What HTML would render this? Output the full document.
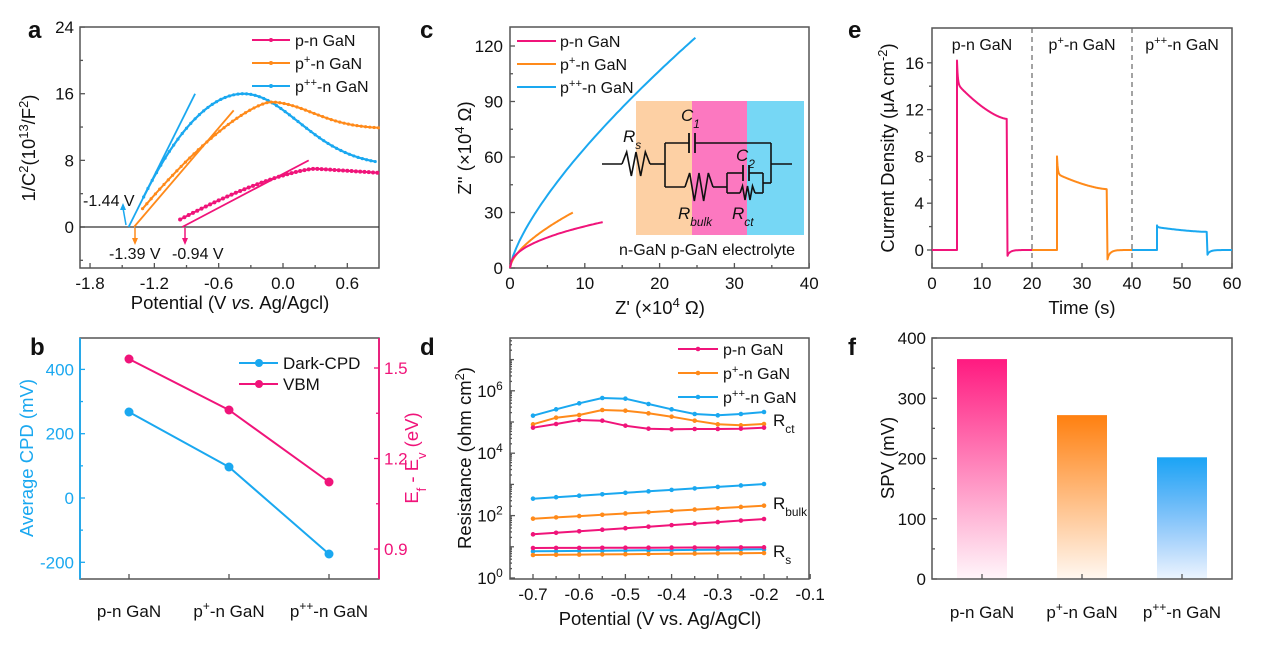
<!DOCTYPE html>
<html><head><meta charset="utf-8"><style>
html,body{margin:0;padding:0;background:#fff;}
svg{display:block;font-family:"Liberation Sans",Arial,sans-serif;}
</style></head><body>
<svg id="s" width="1269" height="645" viewBox="0 0 1269 645" xmlns="http://www.w3.org/2000/svg"></svg>
<script>
const S=document.getElementById('s');let H='';
const PK='#f0147a',OR='#ff8a1a',BL='#1aa8f0',FR='#555';
const TF=17,AF=18.5,LF=16;
function t(x,y,s,o){o=o||{};H+=`<text x="${x}" y="${y}" font-size="${o.fs||TF}" fill="${o.c||'#111'}" text-anchor="${o.a||'start'}" ${o.w?'font-weight="bold"':''} ${o.r?`transform="rotate(-90 ${x} ${y})"`:''} ${o.it?'font-style="italic"':''}>${s}</text>`;}
function L(x1,y1,x2,y2,c,w,d){H+=`<line x1="${x1}" y1="${y1}" x2="${x2}" y2="${y2}" stroke="${c||FR}" stroke-width="${w||1.3}" ${d?`stroke-dasharray="${d}"`:''}/>`;}
function P(pts,c,w){H+=`<polyline fill="none" stroke="${c}" stroke-width="${w||2}" stroke-linejoin="round" points="${pts.map(p=>p[0].toFixed(1)+','+p[1].toFixed(1)).join(' ')}"/>`;}
function box(x1,y1,x2,y2){H+=`<rect x="${x1}" y="${y1}" width="${x2-x1}" height="${y2-y1}" fill="none" stroke="${FR}" stroke-width="1.5"/>`;}
function dot(x,y,c,r){H+=`<circle cx="${x}" cy="${y}" r="${r||1.8}" fill="${c}"/>`;}
const SUP=s=>`<tspan baseline-shift="super" font-size="70%">${s}</tspan>`;
const SUB=s=>`<tspan baseline-shift="sub" font-size="70%">${s}</tspan>`;
const labs=['p-n GaN',`p${SUP('+')}-n GaN`,`p${SUP('++')}-n GaN`];

/* ---------- a ---------- */
{const X=v=>283+v*107.2,Y=v=>227-v*8.33;
box(80,27,379,268);
[-1.8,-1.2,-0.6,0,0.6].forEach(v=>{L(X(v),268,X(v),263);t(X(v),289,v.toFixed(1),{a:'middle'});});
[-1.5,-0.9,-0.3,0.3].forEach(v=>L(X(v),268,X(v),265));
[24,16,8,0].forEach(v=>{L(80,Y(v),85,Y(v));t(74,Y(v)+6,v,{a:'end'});});
[20,12,4,-4].forEach(v=>L(80,Y(v),83,Y(v)));
L(80,227,379,227,'#333',1.2);
let b=[];for(let v=-1.3;v<=0.9;v+=0.04){let y=v<-0.37?3.6+(16-3.6)*(1-Math.pow((-0.37-v)/0.93,1.95)):16-7.7*(1-Math.exp(-Math.pow((v+0.37)/0.8,2)*1.2))/(1-Math.exp(-1.2*1.84));b.push([X(v),Y(y)]);}
P(b,BL,2.2);b.forEach(p=>dot(p[0],p[1],BL,1.6));
let o=[];for(let v=-1.31;v<=0.9;v+=0.04){let y=v<-0.12?2.2+(15-2.2)*(1-Math.pow((-0.12-v)/1.19,1.4)):15-3.2*(1-Math.exp(-Math.pow((v+0.12)/0.55,2)));o.push([X(v),Y(y)]);}
P(o,OR,2);o.forEach(p=>dot(p[0],p[1],OR,1.6));
let pk=[];for(let v=-0.96;v<=0.9;v+=0.04){let y=v<0.3?0.9+(7-0.9)*(1-Math.pow((0.3-v)/1.26,1.4)):7-0.5*(v-0.3)/0.6;pk.push([X(v),Y(y)]);}
P(pk,PK,2);pk.forEach(p=>dot(p[0],p[1],PK,2));
L(X(-1.44),227,X(-0.82),Y(16),BL,1.8);L(X(-1.39),227,X(-0.46),Y(14),OR,1.8);L(X(-0.94),227,X(0.24),Y(8),PK,1.8);
L(126,225,123,208,BL,1.5);H+=`<path d="M120,210 L123,203 L126,210Z" fill="${BL}"/>`;
L(135,228,135,240,OR,1.5);H+=`<path d="M132,238 L135,245 L138,238Z" fill="${OR}"/>`;
L(185,228,185,240,PK,1.5);H+=`<path d="M182,238 L185,245 L188,238Z" fill="${PK}"/>`;
t(83,206,'-1.44 V',{fs:16});t(109,259,'-1.39 V',{fs:16});t(172,259,'-0.94 V',{fs:16});
[[PK,46],[OR,69],[BL,92]].forEach((q,i)=>{L(252,q[1]-6,290,q[1]-6,q[0],2);dot(271,q[1]-6,q[0],2);t(295,q[1],labs[i],{fs:LF});});
t(35,148,`1/C${SUP(2)}(10${SUP(13)}/F${SUP(2)})`,{fs:AF,r:1,a:'middle'});
t(230,309,'Potential (V <tspan font-style="italic">vs.</tspan> Ag/Agcl)',{fs:AF,a:'middle'});
t(28,38,'a',{fs:24,w:1});}

/* ---------- c ---------- */
{const X=v=>510+v*7.48,Y=v=>268-v*1.85;
box(510,27,809,268);
[0,10,20,30,40].forEach(v=>{L(X(v),268,X(v),263);t(X(v),289,v,{a:'middle'});});
[5,15,25,35].forEach(v=>L(X(v),268,X(v),265));
[0,30,60,90,120].forEach(v=>{L(510,Y(v),515,Y(v));t(503,Y(v)+6,v,{a:'end'});});
[15,45,75,105].forEach(v=>L(510,Y(v),513,Y(v)));
H+=`<rect x="636" y="101" width="56" height="134" fill="#fdd0a4"/><rect x="692" y="101" width="55" height="134" fill="#fc78c0"/><rect x="747" y="101" width="57" height="134" fill="#76d7f5"/>`;
const cur=(e,a,b)=>{let p=[];for(let z=0;z<=e;z+=e/60)p.push([X(z),Y(a*Math.pow(z/e,b))]);return p;};
P(cur(25.2,126,0.72),BL,2);P(cur(8.4,30,0.62),OR,2);P(cur(12.6,25,0.45),PK,2);
const zz=(x1,x2,y,h)=>{let n=6,d=`M${x1},${y}`;for(let i=1;i<n;i++){d+=` L${x1+(x2-x1)*i/n},${y+(i%2?-h:h)}`;}d+=` L${x2},${y}`;H+=`<path d="${d}" fill="none" stroke="#111" stroke-width="1.6"/>`;};
const K='#111';
L(602,164,622,164,K,1.6);zz(622,650,164,12);L(650,164,665,164,K,1.6);
L(665,143,665,187,K,1.6);L(665,143,689,143,K,1.6);L(689,133,689,153,K,1.8);L(695,133,695,153,K,1.8);L(695,143,771,143,K,1.6);
L(771,143,771,183,K,1.6);L(771,164,792,164,K,1.6);L(763,183,771,183,K,1.6);
L(665,187,685,187,K,1.6);zz(685,713,187,14);L(713,187,727,187,K,1.6);
L(727,173,727,193,K,1.6);L(727,173,743,173,K,1.6);L(743,165,743,181,K,1.8);L(749,165,749,181,K,1.8);L(749,173,763,173,K,1.6);
L(727,193,740,193,K,1.6);zz(740,755,193,7);L(755,193,763,193,K,1.6);L(763,173,763,193,K,1.6);
t(623,142,`R${SUB('s')}`,{fs:17,it:1});t(681,121,`C${SUB('1')}`,{fs:17,it:1});t(736,161,`C${SUB('2')}`,{fs:17,it:1});
t(678,219,`R${SUB('bulk')}`,{fs:17,it:1});t(732,219,`R${SUB('ct')}`,{fs:17,it:1});
t(619,255,'n-GaN p-GaN electrolyte',{fs:16});
[[PK,47],[OR,70],[BL,93]].forEach((q,i)=>{L(517,q[1]-6,556,q[1]-6,q[0],2);t(560,q[1],labs[i],{fs:LF});});
t(471,148,`Z'' (×10${SUP('4')} Ω)`,{fs:AF,r:1,a:'middle'});
t(660,314,`Z' (×10${SUP('4')} Ω)`,{fs:AF,a:'middle'});
t(420,38,'c',{fs:24,w:1});}

/* ---------- e ---------- */
{const X=v=>932+v*5,Y=v=>250-v*11.7;
box(932,28,1232,268);
[0,10,20,30,40,50,60].forEach(v=>{L(X(v),268,X(v),263);t(X(v),289,v,{a:'middle'});});
[0,4,8,12,16].forEach(v=>{L(927,Y(v),932,Y(v));t(924,Y(v)+6,v,{a:'end'});});
[2,6,10,14].forEach(v=>L(929,Y(v),932,Y(v)));
L(X(20),28,X(20),268,'#666',1.2,'5,4');L(X(40),28,X(40),268,'#666',1.2,'5,4');
const seg=(t0,pk,a1,e,c,neg)=>{let p=[[X(t0-5),Y(0)],[X(t0),Y(0)],[X(t0),Y(pk)]];for(let s=0.02;s<=10;s+=0.08){let v=e+(a1-e)*Math.pow((10-s)/10,1.5)+(pk-a1)*Math.exp(-s/0.15);p.push([X(t0+s),Y(v)]);}
p.push([X(t0+10.1),Y(neg)]);for(let s=0.3;s<=5;s+=0.3)p.push([X(t0+10+s),Y(neg*Math.exp(-s/0.6))]);p.push([X(t0+15),Y(0)]);P(p,c,2);};
seg(5,16.2,14.2,11.2,PK,-0.5);seg(25,8,6.5,5.2,OR,-0.8);seg(45,2.1,1.95,1.55,BL,-0.4);
t(982,50,'p-n GaN',{a:'middle',fs:LF});t(1082,50,labs[1],{a:'middle',fs:LF});t(1182,50,labs[2],{a:'middle',fs:LF});
t(894,148,`Current Density (μA cm${SUP('-2')})`,{fs:AF,r:1,a:'middle'});
t(1082,314,'Time (s)',{fs:AF,a:'middle'});
t(848,38,'e',{fs:24,w:1});}

/* ---------- b ---------- */
{const YL=v=>498-v*0.3215,YR=v=>368+(1.5-v)*301.7;
H+=`<rect x="80" y="338" width="299" height="241" fill="none" stroke="${FR}" stroke-width="1.5"/>`;
L(80,338,80,579,BL,1.8);L(379,338,379,579,PK,1.8);
[400,200,0,-200].forEach(v=>{L(80,YL(v),85,YL(v),BL);t(74,YL(v)+6,v,{a:'end',c:BL});});
[300,100,-100].forEach(v=>L(80,YL(v),83,YL(v),BL));
[1.5,1.2,0.9].forEach(v=>{L(374,YR(v),379,YR(v),PK);t(384,YR(v)+6,v.toFixed(1),{c:PK});});
[1.35,1.05].forEach(v=>L(376,YR(v),379,YR(v),PK));
[129,229,329].forEach((x,i)=>{L(x,579,x,574);t(x,617,labs[i],{a:'middle',fs:17});});
P([[129,412],[229,467],[329,554]],BL,2);P([[129,359],[229,410],[329,482]],PK,2);
[[129,412],[229,467],[329,554]].forEach(p=>dot(p[0],p[1],BL,4.5));[[129,359],[229,410],[329,482]].forEach(p=>dot(p[0],p[1],PK,4.5));
L(239,363,278,363,BL,2);dot(259,363,BL,4);t(283,369,'Dark-CPD',{fs:17});
L(239,384,278,384,PK,2);dot(259,384,PK,4);t(283,390,'VBM',{fs:17});
t(33,458,'Average CPD (mV)',{fs:AF,r:1,a:'middle',c:BL});
t(418,458,`E${SUB('f')} - E${SUB('v')} (eV)`,{fs:AF,r:1,a:'middle',c:PK});
t(30,355,'b',{fs:24,w:1});}

/* ---------- d ---------- */
{const X=v=>533+(v+0.7)*462,Y=l=>578-l*31.2;
box(510,338,809,579);
[-0.7,-0.6,-0.5,-0.4,-0.3,-0.2,-0.1].forEach(v=>{L(X(v),579,X(v),574);t(X(v),600,v.toFixed(1),{a:'middle'});});
[-0.65,-0.55,-0.45,-0.35,-0.25,-0.15].forEach(v=>L(X(v),579,X(v),576));
[0,2,4,6].forEach(v=>{L(510,Y(v),515,Y(v));t(490,Y(v)+6,`10${SUP(v)}`,{a:'middle'});});
[1,3,5,7].forEach(v=>L(510,Y(v),514,Y(v)));
for(let d=0;d<8;d++)for(let m=2;m<10;m++){let y=Y(d+Math.log10(m));if(y>338)L(510,y,512,y);}
const Z=zy=>(578-(zy/3+320))/31.2;
const ser=(arr,c)=>{let p=arr.map((zy,i)=>[X(-0.7+i*0.05),Y(Z(zy))]);P(p,c,2);p.forEach(q=>dot(q[0],q[1],c,2.3));};
const lin=(a,b)=>Array.from({length:11},(_,i)=>a+(b-a)*i/10);
ser([287,268,250,234,236,252,268,282,286,282,276],BL);
ser([313,293,285,270,272,280,290,302,313,316,312],OR);
ser([323,312,300,302,317,326,328,327,327,326,323],PK);
ser(lin(536,492),BL);ser(lin(596,557),OR);ser(lin(643,597),PK);
ser(lin(694,688),BL);ser(lin(705,699),OR);ser(lin(684,682),PK);
t(773,426,`R${SUB('ct')}`,{fs:17});t(773,509,`R${SUB('bulk')}`,{fs:17});t(773,557,`R${SUB('s')}`,{fs:17});
[[PK,355],[OR,379],[BL,403]].forEach((q,i)=>{L(678,q[1]-6,718,q[1]-6,q[0],2);dot(698,q[1]-6,q[0],2.3);t(723,q[1],labs[i],{fs:LF});});
t(471,458,`Resistance (ohm cm${SUP('2')})`,{fs:AF,r:1,a:'middle'});
t(660,625,'Potential (V vs. Ag/AgCl)',{fs:AF,a:'middle'});
t(420,355,'d',{fs:24,w:1});}

/* ---------- f ---------- */
{const Y=v=>579-v*0.6025;
H+=`<defs>
<linearGradient id="g1" x1="0" y1="0" x2="0" y2="1"><stop offset="0" stop-color="#ff1a80"/><stop offset="1" stop-color="#ff1a80" stop-opacity="0.04"/></linearGradient>
<linearGradient id="g2" x1="0" y1="0" x2="0" y2="1"><stop offset="0" stop-color="#ff8010"/><stop offset="1" stop-color="#ff8010" stop-opacity="0.06"/></linearGradient>
<linearGradient id="g3" x1="0" y1="0" x2="0" y2="1"><stop offset="0" stop-color="#1aa4f5"/><stop offset="1" stop-color="#1a80f5" stop-opacity="0.08"/></linearGradient></defs>`;
[[982,365,'g1'],[1082,272,'g2'],[1182,202,'g3']].forEach(b=>H+=`<rect x="${b[0]-25}" y="${Y(b[1])}" width="50" height="${579-Y(b[1])}" fill="url(#${b[2]})"/>`);
box(932,338,1232,579);
[0,100,200,300,400].forEach(v=>{L(932,Y(v),937,Y(v));t(926,Y(v)+6,v,{a:'end'});});
[50,150,250,350].forEach(v=>L(932,Y(v),935,Y(v)));
[982,1082,1182].forEach((x,i)=>{L(x,579,x,574);t(x,618,labs[i],{a:'middle',fs:17});});
t(894,458,'SPV (mV)',{fs:AF,r:1,a:'middle'});
t(848,355,'f',{fs:24,w:1});}
S.innerHTML=H;
</script>
</body></html>
